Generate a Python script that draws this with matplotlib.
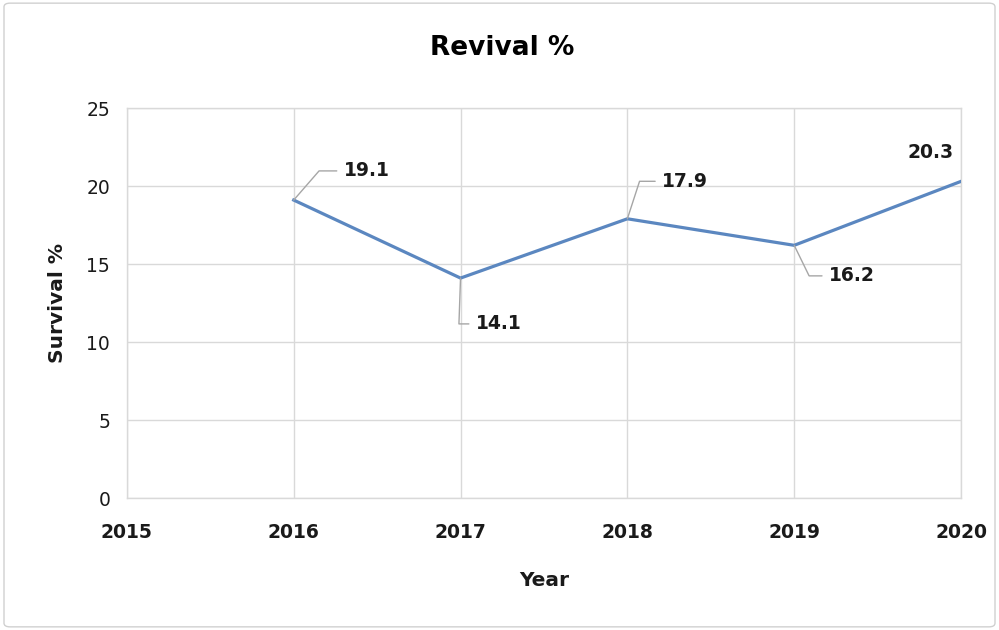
import matplotlib
matplotlib.use("Agg")
import matplotlib.pyplot as plt
from matplotlib.patches import FancyBboxPatch

# ---- data ----
years = [2016, 2017, 2018, 2019, 2020]
survival = [19.1, 14.1, 17.9, 16.2, 20.3]
labels = ["19.1", "14.1", "17.9", "16.2", "20.3"]
x_ticks = [2015, 2016, 2017, 2018, 2019, 2020]
y_ticks = [0, 5, 10, 15, 20, 25]

# label offsets (points) and leader angle per point
label_offsets = [(36, 21), (11, -33), (25, 27), (25, -22), (-22, 21)]
leader_angles = [49, 88, 72, -64, None]

LINE_COLOR = "#5b87c0"
GRID_COLOR = "#d9d9d9"
LEADER_COLOR = "#a6a6a6"
TEXT_COLOR = "#1a1a1a"

plt.rcParams["font.family"] = ["DejaVu Sans"]

fig = plt.figure(figsize=(9.99, 6.30), dpi=100)
ax = fig.add_axes([0.127, 0.2095, 0.835, 0.619])

# outer chart border
fig.patches.append(FancyBboxPatch((0.004, 0.005), 0.992, 0.99,
                                  boxstyle="round,pad=0,rounding_size=0.006",
                                  transform=fig.transFigure, fill=False,
                                  edgecolor="#d0d0d0", linewidth=1.0))

ax.plot(years, survival, color=LINE_COLOR, linewidth=2.3, solid_joinstyle="round", zorder=3)

for x, y, lab, off, ang in zip(years, survival, labels, label_offsets, leader_angles):
    if ang is None:
        ax.annotate(lab, xy=(x, y), xytext=off, textcoords="offset points",
                    ha="center", va="center", fontsize=13.5, fontweight="bold",
                    color=TEXT_COLOR, annotation_clip=False)
    else:
        ax.annotate(lab, xy=(x, y), xytext=off, textcoords="offset points",
                    ha="left", va="center", fontsize=13.5, fontweight="bold",
                    color=TEXT_COLOR, annotation_clip=False,
                    arrowprops=dict(arrowstyle="-", color=LEADER_COLOR, linewidth=1.0,
                                    connectionstyle=f"angle,angleA=0,angleB={ang},rad=0",
                                    shrinkA=3, shrinkB=0))

ax.set_xlim(2015, 2020)
ax.set_ylim(0, 25)
ax.set_xticks(x_ticks)
ax.set_yticks(y_ticks)
ax.set_xticklabels([str(t) for t in x_ticks], fontsize=13.5, fontweight="bold", color=TEXT_COLOR)
ax.set_yticklabels([str(t) for t in y_ticks], fontsize=13.5, color=TEXT_COLOR)
ax.tick_params(axis="both", length=0)
ax.tick_params(axis="x", pad=18)
ax.tick_params(axis="y", pad=12)

ax.grid(True, color=GRID_COLOR, linewidth=1.0)
ax.set_axisbelow(True)
for sp in ax.spines.values():
    sp.set_color(GRID_COLOR)
    sp.set_linewidth(1.0)

ax.set_xlabel("Year", fontsize=14.5, fontweight="bold", color=TEXT_COLOR, labelpad=21)
ax.set_ylabel("Survival %", fontsize=14.5, fontweight="bold", color=TEXT_COLOR, labelpad=14)
fig.text(0.503, 0.924, "Revival %", ha="center", va="center", fontsize=19,
         fontweight="bold", color="#000000")

fig.savefig("out.png", dpi=100, facecolor="white")
plt.close(fig)
